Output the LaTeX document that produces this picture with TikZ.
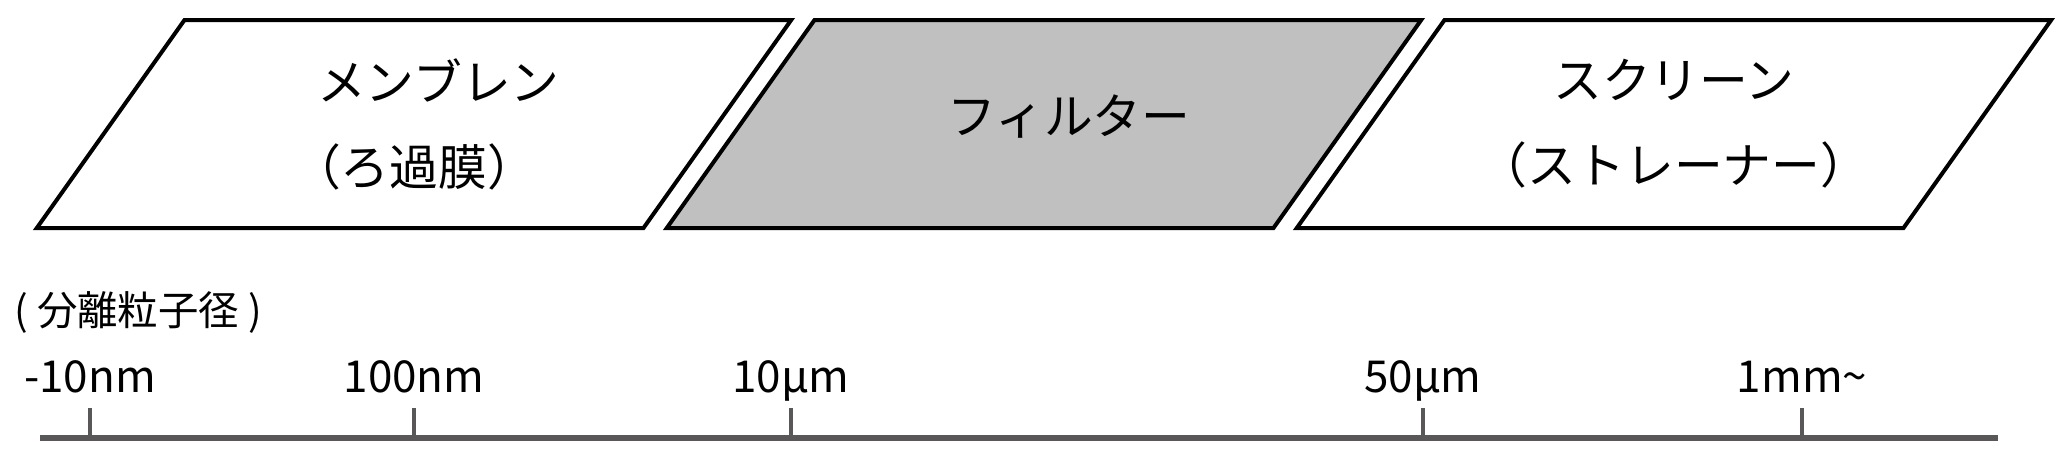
\documentclass[tikz,border=0pt]{standalone}
\usepackage{fontspec}
\setmainfont{Noto Sans CJK JP}
\usetikzlibrary{positioning}
\definecolor{filtergray}{HTML}{BFC0BF}
\definecolor{axisgray}{HTML}{595757}

\begin{document}
\begin{tikzpicture}[x=0.5pt, y=-0.5pt,
  boxline/.style={draw=black, line width=2pt, line join=miter},
  boxtext/.style={inner sep=0pt, align=center, font=\fontsize{24.4}{42.5}\selectfont},
  ticklabel/.style={inner sep=0pt, anchor=base, font=\fontsize{22}{26}\selectfont}]
\useasboundingbox (0,0) rectangle (2068,471);
% filtration ranges
\foreach \cx/\fc in {414/white, 1044/filtergray, 1674/white}
  \draw[boxline, fill=\fc] (\cx,124) ++(-377.2,104) -- ++(606.7,0) -- ++(147.7,-208) -- ++(-606.7,0) -- cycle;
\node[boxtext] (membrane) at (414,124) {　メンブレン\\（ろ過膜）};
\node[boxtext] (filter) at (1069,117) {フィルター};
\node[boxtext] (screen) at (1674,124) {スクリーン\\（ストレーナー）};
% particle size axis
\node[inner sep=0pt, anchor=west, font=\fontsize{20.2}{24}\selectfont] (axistitle) at (14,312) {( 分離粒子径 )};
\coordinate (axisL) at (40,438);
\coordinate (axisR) at (1998,438);
\draw[axisgray, line width=3pt] (axisL) -- (axisR);
\foreach \x/\lab [count=\i] in {90/-10nm, 414/100nm, 791/10μm, 1423/50μm, 1802/1mm\textasciitilde} {
  \coordinate (tick\i) at (\x,438);
  \node[ticklabel] (size\i) at (\x,392) {\lab};
  \draw[axisgray, line width=2pt] (tick\i) -- ++(0,-30);
}
\end{tikzpicture}
\end{document}
